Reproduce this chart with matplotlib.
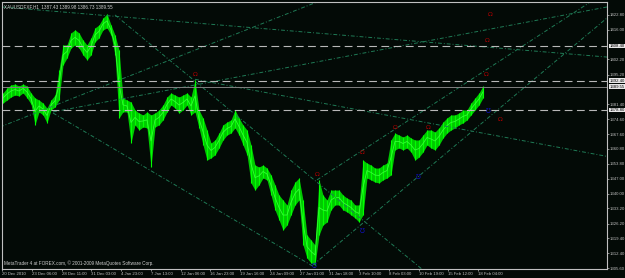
import numpy as np
import matplotlib
matplotlib.use("Agg")
import matplotlib.pyplot as plt

plt.rcParams['font.family'] = ['Liberation Sans', 'DejaVu Sans']

# price samples (every ~10 H1 bars)
highs = [1386.7, 1389.0, 1390.4, 1390.8, 1389.9, 1390.8, 1389.9, 1386.7, 1384.4, 1383.4,
         1382.0, 1379.7, 1383.4, 1385.7, 1397.3, 1408.9, 1408.9, 1414.5, 1415.9, 1414.5,
         1411.2, 1408.9, 1412.2, 1416.8, 1418.2, 1421.4, 1423.3, 1418.2, 1413.5, 1406.6,
         1384.4, 1383.4, 1382.5, 1378.8, 1377.4, 1376.5, 1377.9, 1376.5, 1377.4, 1378.8,
         1381.1, 1384.8, 1386.7, 1385.7, 1384.8, 1385.7, 1386.7, 1384.8, 1392.7, 1378.8,
         1375.1, 1369.5, 1363.5, 1364.9, 1368.1, 1371.9, 1373.2, 1374.2, 1378.8, 1375.1,
         1371.9, 1369.5, 1362.6, 1353.3, 1352.4, 1353.3, 1351.9, 1348.7, 1344.1, 1339.4,
         1337.1, 1334.8, 1341.7, 1345.4, 1347.3, 1337.1, 1320.9, 1318.6, 1316.3, 1346.4,
         1339.4, 1337.1, 1341.7, 1341.7, 1341.7, 1339.4, 1338.0, 1337.1, 1334.8, 1334.8,
         1355.6, 1354.2, 1353.3, 1351.9, 1351.9, 1353.3, 1354.2, 1364.9, 1368.1, 1367.2,
         1366.3, 1367.2, 1365.8, 1364.9, 1364.9, 1367.2, 1369.5, 1369.5, 1368.6, 1370.5,
         1373.2, 1375.1, 1376.5, 1376.5, 1377.4, 1378.8, 1378.8, 1382.0, 1384.4, 1386.7,
         1389.9]
lows = [1382.0, 1383.4, 1384.8, 1385.7, 1385.3, 1386.7, 1384.4, 1381.6, 1371.9, 1377.9,
        1376.5, 1372.8, 1378.8, 1380.2, 1383.4, 1399.6, 1402.9, 1407.5, 1408.9, 1407.5,
        1404.3, 1402.0, 1404.3, 1410.3, 1412.2, 1415.9, 1416.8, 1413.5, 1404.3, 1375.1,
        1377.9, 1377.9, 1363.5, 1371.9, 1369.5, 1370.9, 1370.5, 1352.4, 1370.9, 1371.9,
        1374.2, 1377.9, 1381.1, 1379.7, 1377.4, 1378.8, 1381.1, 1376.5, 1377.9, 1370.5,
        1362.6, 1355.6, 1356.6, 1358.0, 1361.2, 1364.9, 1367.2, 1368.1, 1370.5, 1367.2,
        1362.6, 1358.0, 1345.0, 1341.7, 1344.1, 1347.3, 1346.4, 1339.4, 1332.5, 1327.9,
        1323.2, 1325.5, 1330.2, 1334.8, 1337.1, 1316.3, 1310.2, 1307.9, 1307.0, 1320.9,
        1325.5, 1326.9, 1332.5, 1334.8, 1334.8, 1332.5, 1331.6, 1330.2, 1328.8, 1326.9,
        1330.2, 1347.3, 1346.4, 1345.4, 1345.0, 1346.4, 1347.3, 1348.7, 1360.3, 1361.2,
        1360.3, 1361.2, 1359.3, 1355.6, 1357.0, 1359.3, 1362.6, 1361.2, 1360.3, 1362.6,
        1365.8, 1368.1, 1369.5, 1370.5, 1371.9, 1372.8, 1374.2, 1376.5, 1378.8, 1381.1,
        1384.4]

date_labels = ["20 Dec 2010", "23 Dec 06:00", "28 Dec 11:00", "31 Dec 03:00", "4 Jan 23:00",
               "7 Jan 13:00", "12 Jan 06:00", "16 Jan 23:00", "19 Jan 16:00", "24 Jan 09:00",
               "27 Jan 01:00", "31 Jan 18:00", "3 Feb 10:00", "8 Feb 03:00", "10 Feb 19:00",
               "15 Feb 12:00", "18 Feb 04:00"]
price_ticks = [1422.80, 1416.00, 1402.20, 1395.20, 1381.40, 1374.60, 1367.60, 1360.80,
               1353.80, 1347.00, 1340.00, 1333.20, 1326.20, 1319.40, 1312.40, 1305.60]

hlines = [1408.40, 1392.40, 1378.80]
bid = 1389.55

# trend lines: (x1, p1, x2, p2) in sample units
trendlines = [(-0.25, 1426.5, 151, 1403.3),
              (28, 1422.8, 105, 1304.7),
              (-0.75, 1370.9, 78.5, 1428.8),
              (12.5, 1377.4, 78.25, 1305.6),
              (12.5, 1377.9, 151, 1426.5),
              (78.5, 1346.4, 146.5, 1428.4),
              (77.5, 1307.0, 151, 1421.4),
              (48, 1393.0, 151, 1357.3)]

red_marks = [(48, 1395.0), (78.5, 1348.7), (89.75, 1359.3), (98, 1370.9), (106.25, 1370.5),
             (120.75, 1395.0), (121, 1411.2), (121.75, 1422.8), (124.25, 1374.2)]
blue_marks = [(77.75, 1306.5), (89.75, 1322.3), (103.75, 1347.3), (121.25, 1377.9)]

bg = "#030a06"
fig = plt.figure(figsize=(6.25, 2.78), dpi=100, facecolor=bg)
ax = fig.add_axes([2/625, 9/278, 605/625, 267/278], facecolor=bg)

x = np.arange(len(highs))
ax.fill_between(x, lows, highs, color="#00c800", lw=0)
ax.vlines(x, lows, highs, color="#00ff00", lw=0.8)
mid = [(h + l) / 2 for h, l in zip(highs, lows)]
ax.plot(x, mid, color="#33ff33", lw=0.6)

for x1, p1, x2, p2 in trendlines:
    ax.plot([x1, x2], [p1, p2], color="#1f7a55", lw=0.7, ls=(0, (4, 2, 1, 2)))

for p in hlines:
    ax.axhline(p, color="#b8b8b8", lw=0.8, ls=(0, (7, 4)))
ax.axhline(bid, color="#808080", lw=0.7)

for mx, mp in red_marks:
    ax.text(mx, mp, "Ω", color="#b00000", fontsize=4.5, ha="center", va="center",
            family="DejaVu Sans")
for mx, mp in blue_marks:
    ax.text(mx, mp, "℧", color="#1010c0", fontsize=4.5, ha="center", va="center",
            family="DejaVu Sans")

ax.set_xlim(-0.25, 151)
ax.set_ylim(1305.15, 1428.8)

ax.yaxis.tick_right()
ax.set_yticks(price_ticks)
ax.set_yticklabels(["%.2f" % p for p in price_ticks])
tick_pos = np.arange(len(date_labels)) * 7.44 - 0.25
ax.set_xticks(tick_pos)
ax.set_xticklabels(date_labels, ha="left")
ax.tick_params(colors="#c0c0c0", labelsize=3.1, length=1.5, width=0.5, pad=0.6)
for s in ax.spines.values():
    s.set_color("#c0c0c0")
    s.set_linewidth(0.8)

for p in hlines + [bid]:
    txt = "%.2f" % p
    ax.text(1.004, p, txt, transform=ax.get_yaxis_transform(), fontsize=3.1,
            color="black", va="center", ha="left",
            bbox=dict(boxstyle="square,pad=0.1", fc="#e8e8e8", ec="none"))

ax.text(0.004, 0.993, "XAUUSDFXF,H1  1387.43 1389.98 1386.73 1389.55", transform=ax.transAxes,
        fontsize=3.3, color="#d0d0d0", va="top", ha="left")
ax.text(0.004, 0.012, "MetaTrader 4 at FOREX.com, \u00a9 2001-2009 MetaQuotes Software Corp.",
        transform=ax.transAxes, fontsize=3.3, color="#d0d0d0", va="bottom", ha="left")

fig.savefig("out.png", dpi=100, facecolor=bg)
